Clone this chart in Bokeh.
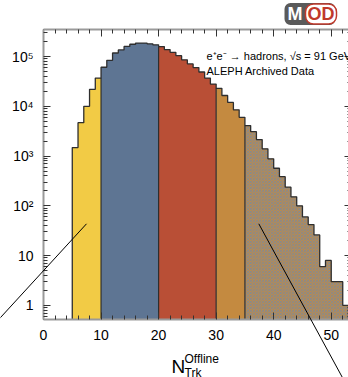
import numpy as np
from bokeh.plotting import figure
from bokeh.models import (Range1d, FixedTicker, LinearAxis, LogAxis,
                          CustomJSTickFormatter, Label, Arrow)
from bokeh.embed import file_html
from bokeh.resources import INLINE

# ---------------- data ----------------
bin_low = list(range(5, 53))          # left edges of unit-width bins, 5 .. 52
counts = [1480, 4700, 10000, 22000, 37000,                                   # 5-9
          61000, 84000, 118000, 136000, 160000, 177000, 187000, 187000, 180000, 172000,  # 10-19
          159000, 138000, 122000, 104000, 86000, 71000, 60000, 49000, 37000, 28000,      # 20-29
          23000, 16500, 12000, 8500, 6000,                                   # 30-34
          4100, 3100, 2150, 1400, 880, 570, 385, 237, 152, 100, 60, 42, 26, 6, 8, 3, 3, 1]  # 35-52
region_edges = [5, 10, 20, 30, 35, 53]
region_colors = ["#F2CB45", "#5E7593", "#B94F36", "#C48A40", "#C48A40"]
x_ticks = [0, 10, 20, 30, 40, 50]
y_ticks = [1, 10, 100, 1000, 10000, 100000]

# axis (frame-box) extents in data and in canvas pixels
X0, X1 = 0, 53
Y0, Y1 = 0.52, 3.5e5
W, H = 348, 377
LEFT, TOP, FW, FH = 43, 29, 305, 290

UX = (X1 - X0) / FW                                   # data units per px
L0, L1 = np.log10(Y0), np.log10(Y1)
UY = (L1 - L0) / FH                                   # decades per px
XR0, XR1 = X0 - LEFT * UX, X0 + (W - LEFT) * UX
YR0 = 10 ** (L0 - (H - TOP - FH) * UY)
YR1 = 10 ** (L1 + TOP * UY)


def dx(px):
    return X0 + (px - LEFT) * UX


def dy(py):
    return 10 ** (L0 + (TOP + FH - py) * UY)


p = figure(width=W, height=H, x_range=Range1d(XR0, XR1), y_range=Range1d(YR0, YR1),
           y_axis_type="log", output_backend="svg", toolbar_location=None, min_border=0)
p.outline_line_color = None
p.xgrid.visible = False
p.ygrid.visible = False
p.background_fill_color = "white"
p.border_fill_color = "white"

FLOOR = Y0
# ---------------- bars (filled step areas per region) ----------------
for i in range(len(region_edges) - 1):
    lo, hi = region_edges[i], region_edges[i + 1]
    sel = [k for k, b in enumerate(bin_low) if lo <= b < hi]
    xs = [bin_low[k] for k in sel] + [bin_low[sel[-1]] + 1]
    ys = [counts[k] for k in sel] + [counts[sel[-1]]]
    kw = {}
    if i == len(region_edges) - 2:
        kw = dict(hatch_pattern="x", hatch_color="#8a8a8a", hatch_scale=3.0,
                  hatch_weight=1.1, hatch_alpha=0.9)
    p.varea_step(x=xs, y1=[FLOOR] * len(xs), y2=ys, step_mode="after",
                 fill_color=region_colors[i], **kw)

# outline step
sx, sy = [bin_low[0]], [FLOOR]
for b, c in zip(bin_low, counts):
    sx += [b, b + 1]
    sy += [c, c]
sx.append(bin_low[-1] + 1)
sy.append(FLOOR)
p.line(sx, sy, line_color="#2e2e2e", line_width=1.3)

# region boundaries
bx, btop = [], []
for e in region_edges[1:-1]:
    k = bin_low.index(e)
    bx.append(e)
    btop.append(min(counts[k - 1], counts[k]))
p.segment(x0=bx, y0=[FLOOR] * len(bx), x1=bx, y1=btop, line_color="#2e2e2e", line_width=1.2)

# ---------------- axes (drawn at the frame-box edges) ----------------
x_minor = [v for v in range(X0, X1 + 1, 2) if v % 10 != 0]
y_minor = [m * 10 ** e for e in range(-1, 6) for m in range(2, 10)
           if Y0 <= m * 10 ** e <= Y1]
xt = FixedTicker(ticks=x_ticks, minor_ticks=x_minor)
yt = FixedTicker(ticks=y_ticks, minor_ticks=y_minor)

yfmt = CustomJSTickFormatter(code="""
const sup = {'0':'\u2070','1':'\u00b9','2':'\u00b2','3':'\u00b3','4':'\u2074','5':'\u2075','6':'\u2076','7':'\u2077','8':'\u2078','9':'\u2079'};
const e = Math.round(Math.log10(tick));
if (e == 0) return '1';
if (e == 1) return '10';
return '10' + String(e).split('').map(c => sup[c]).join('');
""")


def style(ax, labels=True):
    ax.axis_line_color = "#9a9a9a"
    ax.axis_line_width = 2
    ax.major_tick_line_color = "#333333"
    ax.minor_tick_line_color = "#333333"
    ax.major_tick_in = 7
    ax.major_tick_out = 0
    ax.minor_tick_in = 4
    ax.minor_tick_out = 0
    if labels:
        ax.major_label_text_font = "Liberation Sans"
        ax.major_label_text_font_size = "14px"
        ax.major_label_text_color = "black"
    else:
        ax.major_label_text_alpha = 0


xa = p.xaxis[0]
xa.ticker = xt
xa.fixed_location = Y0
xa.bounds = (X0, X1)
style(xa)
xa.major_label_standoff = 10

ya = p.yaxis[0]
ya.ticker = yt
ya.formatter = yfmt
ya.fixed_location = X0
ya.bounds = (Y0, Y1)
style(ya)
ya.major_label_standoff = 10

top_ax = LinearAxis(ticker=xt, fixed_location=Y1, bounds=(X0, X1))
style(top_ax, labels=False)
p.add_layout(top_ax, "above")

right_ax = LogAxis(ticker=yt, fixed_location=X1 + 0.5, bounds=(Y0, Y1))
style(right_ax, labels=False)
right_ax.axis_line_color = None
p.add_layout(right_ax, "right")

# ---------------- annotations ----------------
font = "Liberation Sans"
p.add_layout(Label(x=dx(206), y=dy(55), text="e\u207ae\u207b \u2192 hadrons, \u221as = 91 GeV",
                   text_font=font, text_font_size="11px", text_color="black",
                   text_baseline="alphabetic"))
p.add_layout(Label(x=dx(206), y=dy(70.5), text="ALEPH Archived Data",
                   text_font=font, text_font_size="11px", text_color="black",
                   text_baseline="alphabetic"))

# axis title N_Trk^Offline
p.add_layout(Label(x=dx(171), y=dy(366), text="N", text_font=font,
                   text_font_size="19px", text_color="black", text_baseline="alphabetic"))
p.add_layout(Label(x=dx(184), y=dy(358), text="Offline", text_font=font,
                   text_font_size="12px", text_color="black", text_baseline="alphabetic"))
p.add_layout(Label(x=dx(184), y=dy(372), text="Trk", text_font=font,
                   text_font_size="12px", text_color="black", text_baseline="alphabetic"))

# pointer lines
p.add_layout(Arrow(end=None, x_start=dx(86), y_start=dy(223.3), x_end=dx(-5), y_end=dy(322.5),
                   line_color="black", line_width=1))
p.add_layout(Arrow(end=None, x_start=dx(258.3), y_start=dy(223.3), x_end=dx(343), y_end=dy(379),
                   line_color="black", line_width=1))

# MOD logo
p.add_layout(Label(x=dx(284), y=dy(13.5), text="M", text_font=font, text_font_style="bold",
                   text_font_size="18px", text_color="white", text_baseline="middle",
                   background_fill_color="#5a5a5a", border_radius=6,
                   padding=dict(left=3, right=33, top=1, bottom=1)))
p.add_layout(Label(x=dx(305), y=dy(13.5), text="OD", text_font=font, text_font_style="bold",
                   text_font_size="18px", text_color="#C0392B", text_baseline="middle",
                   background_fill_color="white", border_line_color="#C0392B",
                   border_line_width=1.5, border_radius=8,
                   padding=dict(left=2, right=2, top=0, bottom=0)))

open("out.html", "w").write(file_html(p, INLINE))
